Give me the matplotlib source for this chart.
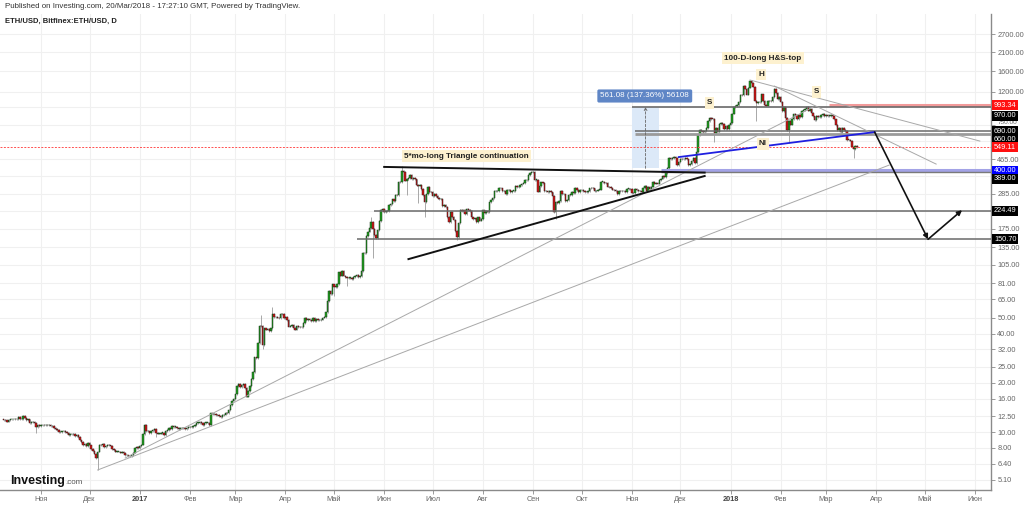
import numpy as np
import pandas as pd
import matplotlib
matplotlib.use("Agg")
import matplotlib.pyplot as plt
import matplotlib.dates as mdates
import matplotlib.transforms as mtransforms
from matplotlib.patches import Rectangle

plt.rcParams['font.family'] = ['Liberation Sans', 'DejaVu Sans']

# ---------------- data: daily closes (ETH/USD, Bitfinex) ----------------
close_2016_10 = [11.9, 11.8, 11.6, 11.9, 11.95, 11.95, 11.95, 12.0, 11.95, 12.4, 12.0, 12.0, 12.5,
                 12.2, 11.9, 11.95, 11.4, 11.5, 11.5, 11.4, 10.7, 11.1, 10.9]          # from Oct 9
close_2016_11 = [11.0, 11.1, 11.0, 11.1, 11.0, 11.1, 10.9, 10.95, 10.6, 10.5, 10.3, 10.0, 10.0, 10.1, 10.2,
                 10.0, 9.9, 9.6, 9.7, 9.7, 9.8, 9.5, 9.6, 9.3, 8.9, 8.7, 8.3, 8.5, 8.2, 8.6]
close_2016_12 = [8.3, 7.9, 7.7, 7.4, 6.9, 7.6, 8.4, 8.3, 8.5, 8.1, 8.2, 8.4, 8.3, 8.2, 7.9, 7.8,
                 7.6, 7.6, 7.6, 7.5, 7.6, 7.5, 7.2, 7.2, 7.1, 7.1, 7.2, 7.5, 8.0, 8.1, 8.0]
close_2017_01 = [8.2, 8.4, 9.7, 11.1, 10.2, 10.1, 9.9, 10.1, 10.3, 10.5, 9.9, 9.8, 9.8, 9.9, 9.9, 9.6,
                 10.2, 10.3, 10.6, 10.5, 10.9, 10.8, 10.8, 10.6, 10.5, 10.6, 10.6, 10.6, 10.5, 10.6, 10.7]
close_2017_02 = [10.8, 10.7, 10.9, 11.1, 11.4, 11.4, 11.5, 11.4, 11.0, 11.4, 11.4, 11.4, 11.1, 13.0,
                 12.9, 12.9, 12.7, 12.8, 12.6, 12.4, 12.7, 12.8, 13.1, 13.0, 13.7, 14.7, 15.6, 15.9]
close_2017_03 = [17.0, 19.1, 19.8, 18.9, 19.5, 19.7, 18.6, 16.5, 17.8, 19.1, 21.2, 23.4, 28.6, 28.5,
                 35.2, 44.4, 44.3, 34.0, 43.0, 42.3, 42.5, 41.6, 43.0, 53.0, 50.4, 50.4, 50.1, 49.8,
                 52.5, 52.9, 49.9]
close_2017_04 = [50.6, 48.5, 44.1, 44.5, 45.1, 43.2, 42.3, 44.4, 43.7, 43.8, 43.7, 46.4, 49.8, 48.3,
                 49.0, 48.5, 47.9, 49.9, 47.8, 49.4, 48.3, 48.3, 48.7, 50.1, 50.5, 53.8, 63.1, 72.6,
                 69.6, 79.8]
close_2017_05 = [77.5, 77.3, 80.1, 94.5, 90.5, 96.1, 90.4, 88.4, 87.2, 87.7, 88.0, 86.4, 88.7, 89.6,
                 91.5, 88.7, 90.1, 96.0, 124.5, 124.3, 158.0, 168.0, 176.0, 193.0, 175.0, 160.0,
                 153.0, 172.0, 195.0, 229.0, 231.0]
close_2017_06 = [221, 223, 224, 245, 248, 264, 257, 280, 279, 336, 339, 395, 389, 344, 351, 357, 371,
                 353, 359, 350, 324, 321, 325, 305, 280, 253, 283, 313, 293, 292]
close_2017_07 = [277, 285, 276, 269, 265, 266, 239, 245, 237, 206, 191, 222, 206, 197, 170, 155, 189,
                 229, 223, 226, 215, 230, 227, 224, 205, 201, 202, 191, 205, 196, 201]
close_2017_08 = [226, 218, 224, 220, 253, 263, 269, 296, 296, 298, 309, 308, 297, 299, 286, 301, 301,
                 294, 298, 298, 321, 314, 316, 325, 330, 333, 347, 347, 371, 383, 388]
close_2017_09 = [388, 348, 348, 295, 317, 335, 332, 296, 297, 293, 298, 291, 276, 221, 256, 250, 257,
                 296, 283, 283, 257, 262, 282, 282, 295, 288, 309, 300, 292, 302]
close_2017_10 = [303, 298, 292, 292, 296, 308, 311, 308, 297, 299, 303, 303, 338, 338, 334, 333, 316,
                 314, 308, 303, 300, 296, 285, 298, 297, 296, 297, 294, 307, 307, 305]
close_2017_11 = [290, 287, 305, 301, 296, 297, 292, 309, 320, 299, 314, 307, 316, 336, 330, 331, 330,
                 347, 354, 367, 361, 381, 410, 474, 466, 471, 480, 471, 427, 445]
close_2017_12 = [464, 463, 466, 471, 463, 428, 434, 456, 474, 441, 515, 651, 702, 695, 684, 694, 720,
                 794, 828, 822, 821, 674, 718, 686, 763, 773, 762, 712, 740, 711, 756]
close_2018_01 = [772, 884, 962, 980, 997, 1041, 1153, 1148, 1299, 1255, 1154, 1273, 1396, 1366, 1292,
                 1061, 1026, 1036, 1039, 1155, 1049, 1003, 989, 1058, 1056, 1054, 1110, 1246, 1184,
                 1078, 1118]
close_2018_02 = [1036, 915, 964, 834, 697, 793, 757, 817, 883, 861, 815, 866, 839, 921, 927, 939, 972,
                 922, 940, 893, 848, 808, 853, 837, 842, 867, 880, 855]
close_2018_03 = [870, 856, 857, 865, 850, 813, 751, 701, 726, 683, 722, 698, 690, 612, 611, 604, 553,
                 538, 557, 549]

month_starts = ["2016-10-09", "2016-11-01", "2016-12-01", "2017-01-01", "2017-02-01", "2017-03-01",
                "2017-04-01", "2017-05-01", "2017-06-01", "2017-07-01", "2017-08-01", "2017-09-01",
                "2017-10-01", "2017-11-01", "2017-12-01", "2018-01-01", "2018-02-01", "2018-03-01"]
month_closes = [close_2016_10, close_2016_11, close_2016_12, close_2017_01, close_2017_02, close_2017_03,
                close_2017_04, close_2017_05, close_2017_06, close_2017_07, close_2017_08, close_2017_09,
                close_2017_10, close_2017_11, close_2017_12, close_2018_01, close_2018_02, close_2018_03]
first_open = 11.95

# long wicks
low_wicks = {"2016-10-29": 9.9, "2016-12-06": 5.9, "2017-01-11": 9.3, "2017-03-18": 32.0,
             "2017-05-01": 68.0, "2017-05-09": 78.0, "2017-05-25": 115.0, "2017-06-15": 280.0,
             "2017-06-22": 250.0, "2017-06-26": 205.0, "2017-07-16": 150.0, "2017-09-15": 200.0,
             "2017-12-22": 590.0, "2018-01-17": 800.0, "2018-02-06": 580.0, "2018-03-18": 470.0}
high_wicks = {"2017-03-17": 52.0, "2017-03-24": 58.0, "2017-05-24": 205.0, "2017-06-12": 420.0,
              "2018-01-13": 1420.0}

# price levels (right-axis labels)
level_prices = [993.34, 970.00, 690.00, 660.00, 549.11, 400.00, 389.00, 224.49, 150.70]
level_starts = ["2018-03-03", "2017-11-01", "2017-11-03", "2017-11-03", None, "2017-11-19",
                "2017-11-19", "2017-05-26", "2017-05-15"]
tick_values = [5.10, 6.40, 8.00, 10.00, 12.50, 16.00, 20.00, 25.00, 32.00, 40.00, 50.00, 65.00, 81.00,
               105.00, 135.00, 175.00, 225.00, 285.00, 365.00, 465.00, 600.00, 750.00, 970.00,
               1200.00, 1600.00, 2100.00, 2700.00]
hidden_tick_labels = [225.00, 365.00, 600.00, 970.00]   # covered by the price boxes in the chart
month_ticks = ["2016-11-01", "2016-12-01", "2017-01-01", "2017-02-01", "2017-03-01", "2017-04-01",
               "2017-05-01", "2017-06-01", "2017-07-01", "2017-08-01", "2017-09-01", "2017-10-01",
               "2017-11-01", "2017-12-01", "2018-01-01", "2018-02-01", "2018-03-01", "2018-04-01",
               "2018-05-01", "2018-06-01"]
month_labels = ["Ноя", "Дек", "2017", "Фев", "Мар", "Апр", "Май", "Июн", "Июл", "Авг", "Сен", "Окт",
                "Ноя", "Дек", "2018", "Фев", "Мар", "Апр", "Май", "Июн"]

# drawings (date, price)
steep_trend = [("2016-12-23", 6.95), ("2018-02-21", 968.0)]
shallow_trend = [("2016-12-06", 5.87), ("2018-04-09", 428.0)]
hs_line_a = [("2018-01-13", 1416.0), ("2018-06-04", 600.0)]
hs_line_b = [("2018-01-28", 1301.0), ("2018-05-08", 434.0)]
neckline = [("2017-11-30", 479.0), ("2018-03-31", 681.0)]
triangle_top = [("2017-06-01", 417.0), ("2017-12-16", 385.0)]
triangle_bottom = [("2017-06-16", 114.0), ("2017-12-16", 367.0)]
projection = [("2018-03-31", 681.0), ("2018-05-03", 150.7), ("2018-05-24", 227.0)]
measure_dates = ["2017-11-01", "2017-11-18"]
measure_prices = [408.5, 969.6]
notes = [("100-D-long H&S-top", "2018-01-21", 1930.0), ("H", "2018-01-20", 1540.0),
         ("S", "2017-12-19", 1025.0), ("S", "2018-02-23", 1197.0), ("NI", "2018-01-21", 576.0),
         ("5*mo-long Triangle continuation", "2017-07-22", 486.0)]
measure_text = ("561.08 (137.36%) 56108", "2017-11-09", 1131.0)

# ---------------- build OHLC ----------------
dates, closes = [], []
for start, vals in zip(month_starts, month_closes):
    dates += list(pd.date_range(start, periods=len(vals), freq="D"))
    closes += list(vals)
closes = np.array(closes, dtype=float)
opens = np.concatenate([[first_open], closes[:-1]])
pad = 0.012
highs = np.maximum(opens, closes) * (1 + pad)
lows = np.minimum(opens, closes) * (1 - pad)
dkeys = [d.strftime("%Y-%m-%d") for d in dates]
for i, k in enumerate(dkeys):
    if k in low_wicks:
        lows[i] = low_wicks[k]
    if k in high_wicks:
        highs[i] = high_wicks[k]
xd = mdates.date2num(pd.to_datetime(dates))

def dn(s):
    return mdates.date2num(pd.Timestamp(s))

# ---------------- figure ----------------
W, H = 1024, 507
fig = plt.figure(figsize=(W / 100, H / 100), dpi=100)
ax = fig.add_axes([0, 17 / H, 991 / W, 476 / H])
ax.set_yscale("log")
ax.set_ylim(4.43, 3584)
px_per_day = 1.6187
ax.set_xlim(dn("2016-11-01") - 41 / px_per_day, dn("2016-11-01") + 950 / px_per_day)

# grid
for m in month_ticks:
    ax.axvline(dn(m), color="#f0f0f0", lw=0.8, zorder=0)
for t in tick_values:
    ax.axhline(t, color="#f0f0f0", lw=0.8, zorder=0)

# candles
up = closes >= opens
ax.vlines(xd, lows, highs, color="#9a9a9a", lw=0.6, zorder=2)
body_lo = np.minimum(opens, closes)
body_h = np.maximum(np.abs(closes - opens), body_lo * 0.005)
ax.bar(xd[up], body_h[up], bottom=body_lo[up], width=0.9, color="#1fa01f",
       edgecolor="#1a3a1a", linewidth=0.35, zorder=3)
ax.bar(xd[~up], body_h[~up], bottom=body_lo[~up], width=0.9, color="#d41515",
       edgecolor="#3a1a1a", linewidth=0.35, zorder=3)

xmax = ax.get_xlim()[1]
xmin = ax.get_xlim()[0]

# horizontal levels
lvl_style = {993.34: ("#f29a9a", 2.2, "-"), 970.00: ("#6a6a6a", 1.2, "-"), 690.00: ("#6a6a6a", 1.1, "-"),
             660.00: ("#9a9a9a", 2.0, "-"), 549.11: ("#ff5050", 0.7, (0, (2, 1.5))),
             400.00: ("#a3a3e6", 2.2, "-"), 389.00: ("#7a7a7a", 1.0, "-"), 224.49: ("#6a6a6a", 1.1, "-"),
             150.70: ("#6a6a6a", 1.1, "-")}
for p, s in zip(level_prices, level_starts):
    c, lw, ls = lvl_style[p]
    x0 = xmin if s is None else dn(s)
    ax.plot([x0, xmax], [p, p], color=c, lw=lw, ls=ls, zorder=4, solid_capstyle="butt")

def seg(points, **kw):
    ax.plot([dn(d) for d, _ in points], [v for _, v in points], **kw)

seg(steep_trend, color="#a8a8a8", lw=0.7, zorder=4)
seg(shallow_trend, color="#a8a8a8", lw=0.7, zorder=4)
seg(hs_line_a, color="#a8a8a8", lw=0.7, zorder=4)
seg(hs_line_b, color="#a8a8a8", lw=0.7, zorder=4)
seg(neckline, color="#1f1fe0", lw=1.3, zorder=5)
seg(triangle_top, color="#111111", lw=1.4, zorder=5)
seg(triangle_bottom, color="#111111", lw=1.4, zorder=5)
# projection arrows
p0, p1, p2 = [(dn(d), v) for d, v in projection]
ax.annotate("", xy=p1, xytext=p0, arrowprops=dict(arrowstyle="-|>", color="#111111", lw=1.2,
            mutation_scale=7, shrinkA=0, shrinkB=0), zorder=6)
ax.annotate("", xy=p2, xytext=p1, arrowprops=dict(arrowstyle="-|>", color="#111111", lw=1.2,
            mutation_scale=7, shrinkA=0, shrinkB=0), zorder=6)

# measurement box
mx0, mx1 = dn(measure_dates[0]), dn(measure_dates[1])
ax.add_patch(Rectangle((mx0, measure_prices[0]), mx1 - mx0, measure_prices[1] - measure_prices[0],
                       facecolor="#dce9f8", edgecolor="none", zorder=1.5))
mxm = (mx0 + mx1) / 2
ax.annotate("", xy=(mxm, measure_prices[1]), xytext=(mxm, measure_prices[0]),
            arrowprops=dict(arrowstyle="->", color="#666666", lw=0.6, ls=(0, (3, 2)),
                            mutation_scale=5, shrinkA=0, shrinkB=0), zorder=5)
ax.text(dn(measure_text[1]), measure_text[2], measure_text[0], color="white", fontsize=5.8,
        ha="center", va="center", zorder=8,
        bbox=dict(boxstyle="round,pad=0.38,rounding_size=0.2", fc="#5f86c6", ec="none"))

# notes
for txt, d, v in notes:
    ax.text(dn(d), v, txt, fontsize=5.9, fontweight="bold", color="#222222", ha="center", va="center",
            zorder=8, bbox=dict(boxstyle="square,pad=0.25", fc="#fdf1cf", ec="none"))

# axes styling
for sp in ["top", "left"]:
    ax.spines[sp].set_visible(False)
ax.spines["right"].set_color("#8a8a8a")
ax.spines["bottom"].set_color("#8a8a8a")
ax.spines["right"].set_linewidth(1.0)
ax.spines["bottom"].set_linewidth(1.0)
ax.yaxis.tick_right()
ax.set_yticks(tick_values)
ax.set_yticklabels(["" if t in hidden_tick_labels else f"{t:.2f}" for t in tick_values])
ax.yaxis.set_minor_locator(matplotlib.ticker.NullLocator())
ax.tick_params(axis="y", labelsize=5.3, labelcolor="#666666", color="#8a8a8a", length=3, width=0.6, pad=1.5)
# the 750 label sits squeezed between two price boxes: nudge it up a little
for t, lbl in zip(tick_values, ax.get_yticklabels()):
    if t == 750.00:
        lbl.set_fontsize(4.6)
        lbl.set_transform(lbl.get_transform() + mtransforms.Affine2D().translate(0, 3))
ax.set_xticks([dn(m) for m in month_ticks])
ax.set_xticklabels(month_labels)
ax.tick_params(axis="x", labelsize=5.3, labelcolor="#666666", color="#8a8a8a", length=3, width=0.6, pad=1.5)
for lbl, m in zip(ax.get_xticklabels(), month_labels):
    if m in ("2017", "2018"):
        lbl.set_fontweight("bold")
        lbl.set_color("#444444")

# colored price labels on the right axis
lvl_label = {993.34: ("#ff1010", 0), 970.00: ("#000000", -9), 690.00: ("#000000", 0),
             660.00: ("#000000", -5), 549.11: ("#ff1010", 0), 400.00: ("#0000ff", -1),
             389.00: ("#000000", -7), 224.49: ("#000000", 0), 150.70: ("#000000", 0)}
for p in level_prices:
    c, dy = lvl_label[p]
    ax.annotate(f"{p:.2f}", xy=(1, p), xycoords=("axes fraction", "data"), xytext=(3, dy),
                textcoords="offset pixels", ha="left", va="center", color="white", fontsize=5.3,
                zorder=20, annotation_clip=False,
                bbox=dict(boxstyle="square,pad=0.22", fc=c, ec="none"))

# header & logo
fig.text(5 / W, 1 - 7 / H, "Published on Investing.com, 20/Mar/2018 - 17:27:10 GMT, Powered by TradingView.",
         fontsize=5.65, color="#333333", ha="left", va="center")
fig.text(5 / W, 1 - 21 / H, "ETH/USD, Bitfinex:ETH/USD, D", fontsize=5.5, fontweight="bold",
         color="#222222", ha="left", va="center")
fig.text(10 / W, 1 - 481 / H, "Investing", fontsize=9, fontweight="bold", color="#111111",
         ha="left", va="center")
fig.text(65 / W, 1 - 483 / H, ".com", fontsize=5.8, color="#555555", ha="left", va="center")

fig.savefig("out.png", dpi=100)
